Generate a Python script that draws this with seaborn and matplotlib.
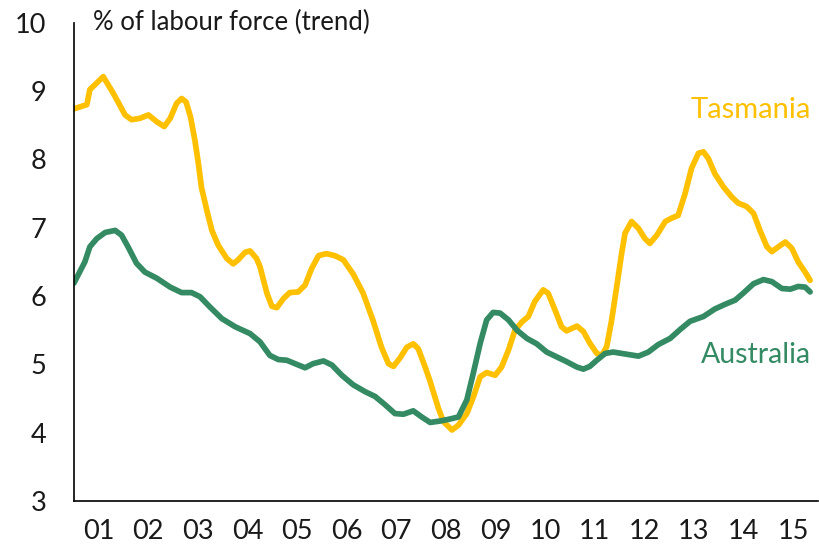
import matplotlib
matplotlib.use("Agg")
import matplotlib.pyplot as plt
import numpy as np
import pandas as pd
import seaborn as sns

# values (decimal year, % of labour force)
tas_year = [2001.00, 2001.26, 2001.32, 2001.59, 2001.79, 2002.03, 2002.16, 2002.33,
            2002.50, 2002.67, 2002.82, 2002.94, 2003.07, 2003.17, 2003.26, 2003.35,
            2003.44, 2003.51, 2003.57, 2003.68, 2003.78, 2003.91, 2004.08, 2004.21,
            2004.31, 2004.45, 2004.55, 2004.68, 2004.75, 2004.89, 2004.99, 2005.09,
            2005.22, 2005.35, 2005.52, 2005.66, 2005.79, 2005.93, 2006.09, 2006.26,
            2006.43, 2006.63, 2006.83, 2007.03, 2007.20, 2007.34, 2007.44, 2007.57,
            2007.71, 2007.84, 2007.94, 2008.08, 2008.18, 2008.35, 2008.45, 2008.62,
            2008.75, 2008.92, 2009.05, 2009.19, 2009.32, 2009.49, 2009.62, 2009.76,
            2009.89, 2010.03, 2010.16, 2010.29, 2010.46, 2010.56, 2010.70, 2010.83,
            2010.93, 2011.14, 2011.27, 2011.40, 2011.54, 2011.64, 2011.74, 2011.84,
            2011.94, 2012.04, 2012.11, 2012.24, 2012.38, 2012.51, 2012.61, 2012.75,
            2012.92, 2013.05, 2013.18, 2013.32, 2013.45, 2013.59, 2013.69, 2013.79,
            2013.92, 2014.09, 2014.26, 2014.39, 2014.56, 2014.70, 2014.83, 2014.97,
            2015.07, 2015.20, 2015.34, 2015.47, 2015.60, 2015.74, 2015.84]
tas_rate = [8.74, 8.80, 9.02, 9.21, 8.97, 8.65, 8.58, 8.60,
            8.65, 8.55, 8.48, 8.60, 8.82, 8.89, 8.84, 8.62,
            8.27, 7.93, 7.59, 7.25, 6.96, 6.74, 6.55, 6.47,
            6.53, 6.64, 6.66, 6.55, 6.43, 6.04, 5.85, 5.83,
            5.96, 6.05, 6.06, 6.16, 6.40, 6.59, 6.62, 6.59,
            6.53, 6.32, 6.04, 5.64, 5.25, 5.01, 4.97, 5.09,
            5.25, 5.30, 5.23, 4.96, 4.75, 4.35, 4.16, 4.04,
            4.11, 4.28, 4.52, 4.82, 4.88, 4.84, 4.96, 5.21,
            5.50, 5.62, 5.70, 5.92, 6.09, 6.04, 5.79, 5.55,
            5.49, 5.56, 5.48, 5.31, 5.16, 5.13, 5.26, 5.65,
            6.13, 6.62, 6.92, 7.09, 6.99, 6.84, 6.77, 6.89,
            7.09, 7.14, 7.18, 7.50, 7.87, 8.09, 8.11, 8.01,
            7.79, 7.60, 7.45, 7.36, 7.31, 7.21, 6.96, 6.72,
            6.65, 6.72, 6.79, 6.70, 6.50, 6.35, 6.23]

aus_year = [2001.00, 2001.22, 2001.32, 2001.46, 2001.63, 2001.83, 2001.96, 2002.09,
            2002.26, 2002.43, 2002.67, 2002.94, 2003.17, 2003.37, 2003.54, 2003.74,
            2003.98, 2004.25, 2004.55, 2004.75, 2004.95, 2005.12, 2005.29, 2005.49,
            2005.66, 2005.82, 2006.03, 2006.20, 2006.40, 2006.63, 2006.87, 2007.07,
            2007.27, 2007.47, 2007.64, 2007.84, 2008.01, 2008.18, 2008.38, 2008.58,
            2008.75, 2008.92, 2009.05, 2009.19, 2009.32, 2009.45, 2009.59, 2009.76,
            2009.93, 2010.13, 2010.33, 2010.53, 2010.73, 2010.93, 2011.14, 2011.27,
            2011.40, 2011.54, 2011.71, 2011.87, 2012.04, 2012.38, 2012.58, 2012.78,
            2013.02, 2013.22, 2013.42, 2013.69, 2013.92, 2014.13, 2014.33, 2014.49,
            2014.70, 2014.90, 2015.07, 2015.27, 2015.44, 2015.60, 2015.74, 2015.84]
aus_rate = [6.19, 6.50, 6.72, 6.84, 6.93, 6.96, 6.89, 6.72,
            6.48, 6.35, 6.26, 6.13, 6.05, 6.05, 5.99, 5.84,
            5.67, 5.55, 5.45, 5.33, 5.13, 5.07, 5.06, 5.00,
            4.95, 5.01, 5.05, 4.99, 4.84, 4.70, 4.60, 4.53,
            4.41, 4.28, 4.27, 4.32, 4.23, 4.15, 4.17, 4.20,
            4.23, 4.48, 4.87, 5.31, 5.65, 5.76, 5.75, 5.65,
            5.50, 5.38, 5.30, 5.18, 5.11, 5.04, 4.96, 4.93,
            4.97, 5.06, 5.16, 5.18, 5.16, 5.12, 5.18, 5.29,
            5.38, 5.51, 5.63, 5.70, 5.81, 5.88, 5.94, 6.04,
            6.18, 6.24, 6.21, 6.11, 6.10, 6.14, 6.13, 6.06]

year_labels = ["01", "02", "03", "04", "05", "06", "07", "08",
               "09", "10", "11", "12", "13", "14", "15"]

GOLD = "#FFC000"
GREEN = "#348A63"

df = pd.concat([
    pd.DataFrame({"year": tas_year, "rate": tas_rate, "region": "Tasmania"}),
    pd.DataFrame({"year": aus_year, "rate": aus_rate, "region": "Australia"}),
])

sns.set_style("white")
plt.rcParams["font.family"] = ["Lato", "DejaVu Sans"]

fig = plt.figure(figsize=(8.2, 5.53), dpi=100)
ax = fig.add_axes([0.0902, 0.094, 0.9074, 0.865])

sns.lineplot(data=df, x="year", y="rate", hue="region", sort=False,
             palette={"Tasmania": GOLD, "Australia": GREEN},
             linewidth=4.1, legend=False, ax=ax)
for ln in ax.get_lines():
    ln.set_solid_joinstyle("round")
    ln.set_solid_capstyle("round")

ax.set_xlim(2001, 2016)
ax.set_ylim(3, 10)
ax.set_xlabel("")
ax.set_ylabel("")

ax.set_yticks(range(3, 11))
ax.set_xticks(np.arange(2001, 2017))
ax.set_xticklabels([])
ax.set_xticks(np.arange(2001.5, 2016), minor=True)
ax.set_xticklabels(year_labels, minor=True)
ax.tick_params(axis="x", which="major", direction="out", length=8, width=1,
               color="#888888")
ax.tick_params(axis="x", which="minor", length=0, pad=13, labelsize=19.5,
               labelcolor="#1a1a1a")
ax.tick_params(axis="y", direction="out", length=8, width=1, color="#888888",
               pad=12, labelsize=19.5, labelcolor="#1a1a1a")

for side in ["top", "right"]:
    ax.spines[side].set_visible(False)
for side in ["left", "bottom"]:
    ax.spines[side].set_color("black")
    ax.spines[side].set_linewidth(1.2)

ax.text(2001.38, 10, "% of labour force (trend)", fontsize=18.5, color="#1a1a1a",
        ha="left", va="center")
ax.text(2015.85, 8.72, "Tasmania", fontsize=21, color=GOLD, ha="right",
        va="center")
ax.text(2015.85, 5.14, "Australia", fontsize=20.5, color=GREEN, ha="right",
        va="center")

fig.savefig("out.png", dpi=100)
